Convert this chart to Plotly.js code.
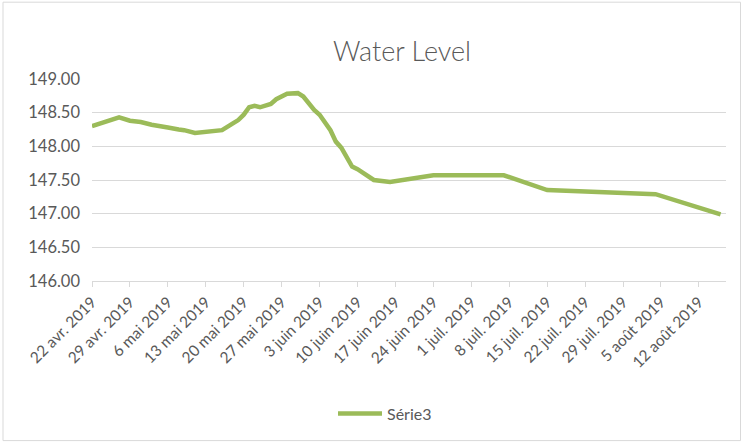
<!DOCTYPE html>
<html>
<head>
<meta charset="utf-8">
<script src="https://cdn.plot.ly/plotly-3.0.1.min.js"></script>
<style>
html,body{margin:0;padding:0;background:#fff;}
#chart{width:744px;height:445px;}
</style>
</head>
<body>
<div id="chart"></div>
<script>
const dates = [
  '2019-04-22','2019-04-27','2019-04-29','2019-05-01','2019-05-03','2019-05-04',
  '2019-05-06','2019-05-08','2019-05-09','2019-05-11','2019-05-13','2019-05-15',
  '2019-05-16','2019-05-18','2019-05-19','2019-05-20','2019-05-21','2019-05-22',
  '2019-05-23','2019-05-25','2019-05-26','2019-05-28','2019-05-30','2019-05-31',
  '2019-06-02','2019-06-03','2019-06-05','2019-06-06','2019-06-07','2019-06-09',
  '2019-06-10','2019-06-13','2019-06-16','2019-06-24','2019-07-07','2019-07-15',
  '2019-08-04','2019-08-16'
];
const levels = [
  148.30,148.43,148.38,148.36,148.32,148.31,
  148.28,148.25,148.24,148.20,148.22,148.23,
  148.24,148.34,148.39,148.47,148.58,148.60,
  148.58,148.63,148.70,148.78,148.79,148.74,
  148.54,148.47,148.24,148.07,147.98,147.70,
  147.66,147.50,147.47,147.57,147.57,147.35,
  147.29,146.99
];
const seriesName = 'Série3';
const chartTitle = 'Water Level';
const tickDates = [
  '2019-04-22','2019-04-29','2019-05-06','2019-05-13','2019-05-20','2019-05-27',
  '2019-06-03','2019-06-10','2019-06-17','2019-06-24','2019-07-01','2019-07-08',
  '2019-07-15','2019-07-22','2019-07-29','2019-08-05','2019-08-12'
];
const tickLabels = [
  '22 avr. 2019','29 avr. 2019','6 mai 2019','13 mai 2019','20 mai 2019','27 mai 2019',
  '3 juin 2019','10 juin 2019','17 juin 2019','24 juin 2019','1 juil. 2019','8 juil. 2019',
  '15 juil. 2019','22 juil. 2019','29 juil. 2019','5 août 2019','12 août 2019'
];
const yTicks = [146, 146.5, 147, 147.5, 148, 148.5, 149];

const L = 92, R = 726, T = 78.5, B = 281;
const pw = R - L, ph = B - T;
const px = v => (v - L) / pw;
const py = v => (B - v) / ph;

const trace = {
  x: dates, y: levels, type: 'scatter', mode: 'lines', name: seriesName,
  line: {color: '#9BBB59', width: 4.5, shape: 'linear'},
  hoverinfo: 'skip'
};

const font = {family: 'Lato, "Open Sans", sans-serif', color: '#595959'};

const layout = {
  width: 744, height: 445,
  margin: {l: L, r: 744 - R, t: T, b: 445 - B, pad: 0},
  paper_bgcolor: '#ffffff', plot_bgcolor: '#ffffff',
  font: font,
  showlegend: true,
  title: {text: chartTitle, x: px(402), xref: 'paper', xanchor: 'center',
          y: 1 - 52/445, yref: 'container', yanchor: 'middle',
          font: {family: font.family, size: 27, weight: 300, color: '#595959'}},
  xaxis: {
    type: 'date', range: ['2019-04-22', '2019-08-17'],
    tickmode: 'array', tickvals: tickDates, ticktext: tickLabels,
    tickangle: -45, ticks: 'outside', ticklen: 5, tickcolor: '#d9d9d9', tickwidth: 1,
    showline: true, linecolor: '#d9d9d9', linewidth: 1,
    showgrid: false, zeroline: false, fixedrange: true,
    tickfont: {family: font.family, size: 15.5, color: '#595959'}
  },
  yaxis: {
    range: [146, 149], tickmode: 'array', tickvals: yTicks,
    ticktext: yTicks.map(v => v.toFixed(2)),
    showgrid: true, gridcolor: '#d9d9d9', gridwidth: 1,
    showline: false, zeroline: false, ticks: '', fixedrange: true,
    ticklabelstandoff: 11,
    tickfont: {family: font.family, size: 16.5, color: '#595959'}
  },
  legend: {orientation: 'h', x: px(385), xanchor: 'center', y: py(414), yanchor: 'middle',
           font: {family: font.family, size: 16, color: '#595959'},
           itemwidth: 44,
           bgcolor: 'rgba(0,0,0,0)'},
  shapes: [{type: 'rect', xref: 'paper', yref: 'paper',
            x0: px(3), x1: px(740.5), y0: py(1.5), y1: py(441),
            line: {color: '#d9d9d9', width: 1}, fillcolor: 'rgba(0,0,0,0)', layer: 'below'}]
};

Plotly.newPlot('chart', [trace], layout, {displayModeBar: false, staticPlot: true});
</script>
</body>
</html>
